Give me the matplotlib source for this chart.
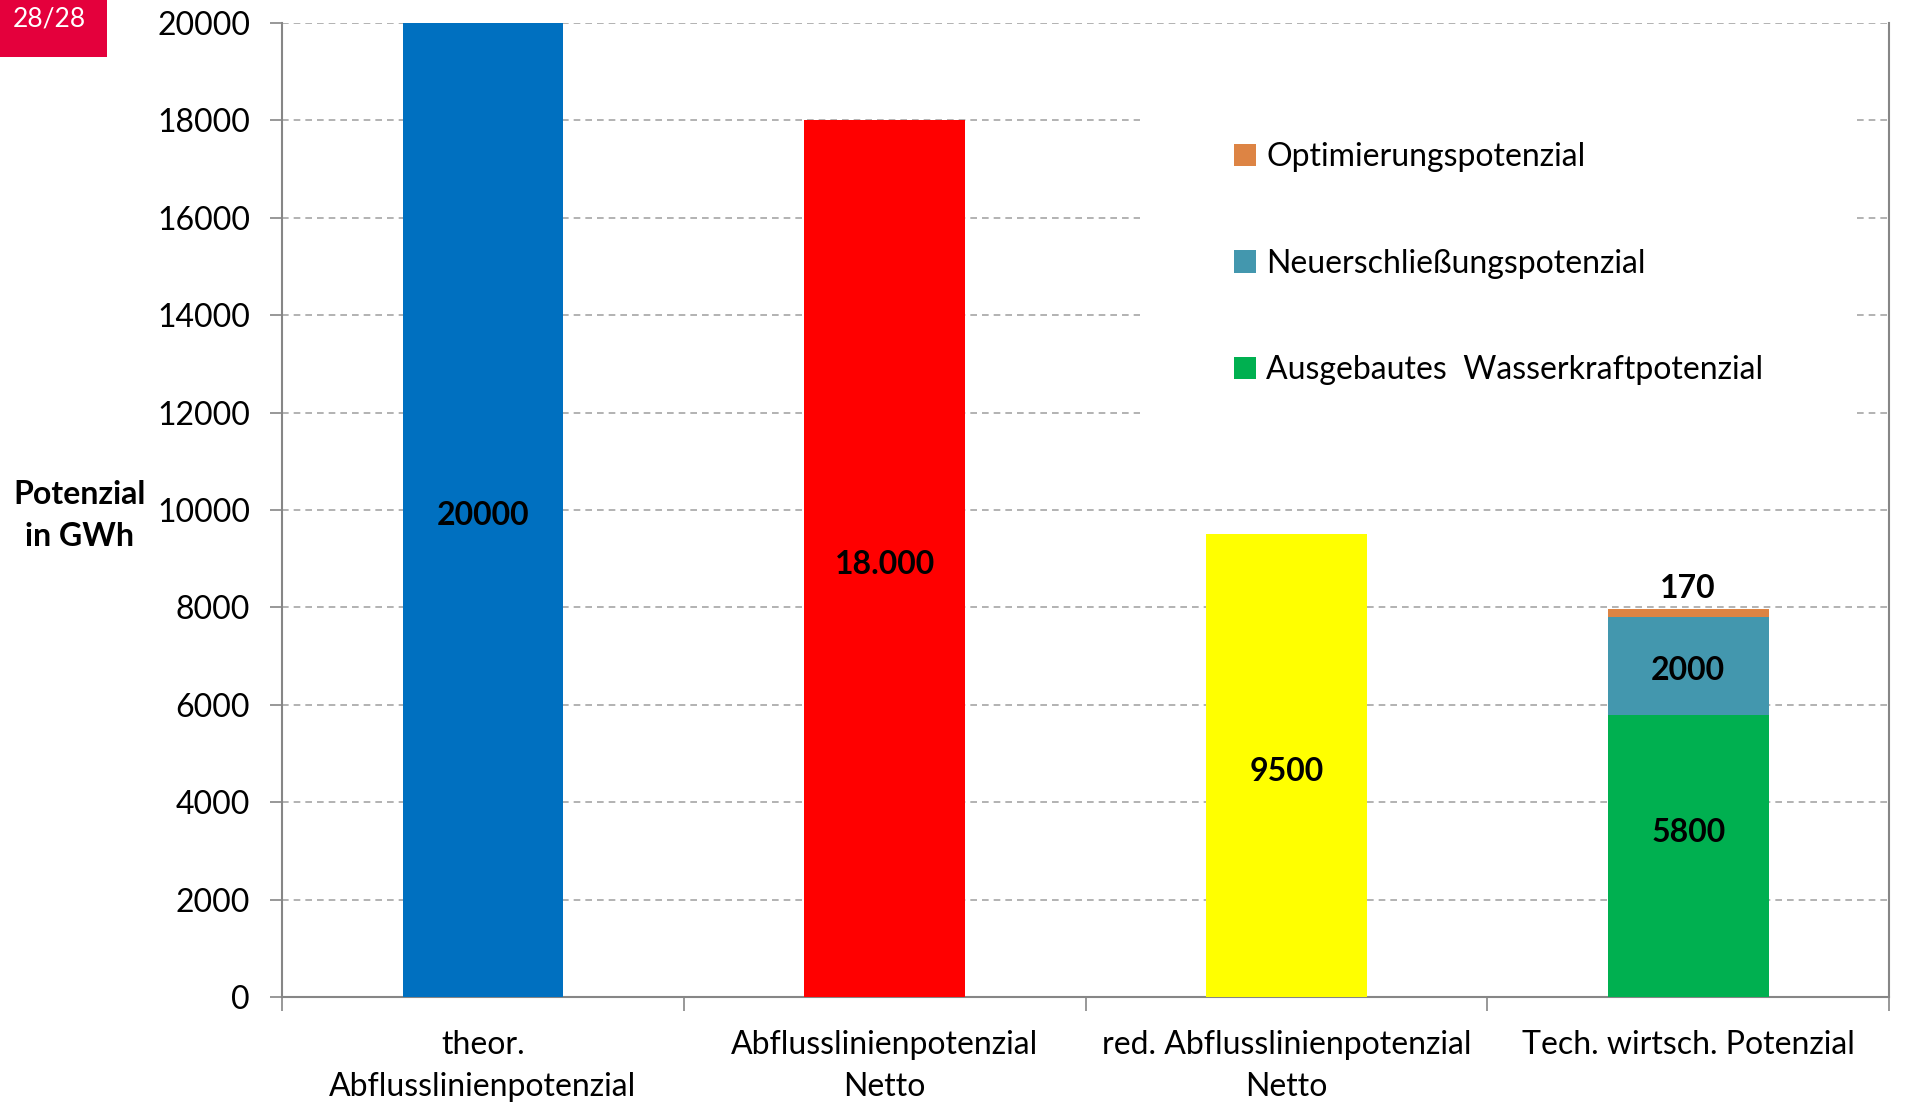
import matplotlib
matplotlib.use("Agg")
import matplotlib.pyplot as plt
from matplotlib.patches import Rectangle

plt.rcParams['font.family'] = ['Lato', 'DejaVu Sans']

categories = ["theor.\nAbflusslinienpotenzial", "Abflusslinienpotenzial\nNetto",
              "red. Abflusslinienpotenzial\nNetto", "Tech. wirtsch. Potenzial"]
single_values = [20000, 18000, 9500]
single_labels = ["20000", "18.000", "9500"]
single_colors = ["#0070C0", "#FF0000", "#FFFF00"]

stack_names = ["Ausgebautes  Wasserkraftpotenzial", "Neuerschließungspotenzial", "Optimierungspotenzial"]
stack_values = [5800, 2000, 170]
stack_colors = ["#00B050", "#4397AE", "#DD8444"]

yticks = list(range(0, 20001, 2000))

fig = plt.figure(figsize=(19.07, 11.19), dpi=100)
ax = fig.add_axes([0.1479, 0.109, 0.8427, 0.8704])

width = 0.4
fs = 23

# single-value bars
for i, (v, lab, c) in enumerate(zip(single_values, single_labels, single_colors)):
    ax.bar(i, v, width=width, color=c, zorder=3)
    ax.text(i, v / 2 - 120, lab, ha="center", va="center", fontsize=fs, fontweight="bold", zorder=4)

# stacked bar
x = len(single_values)
bottom = 0
handles = []
for v, name, c in zip(stack_values, stack_names, stack_colors):
    h = ax.bar(x, v, width=width, bottom=bottom, color=c, label=name, zorder=3)
    handles.append(h)
    bottom += v
ax.text(x, 3370, f"{stack_values[0]}", ha="center", va="center", fontsize=fs, fontweight="bold", zorder=4)
ax.text(x, stack_values[0] + stack_values[1] / 2 - 100, f"{stack_values[1]}", ha="center", va="center",
        fontsize=fs, fontweight="bold", zorder=4)
ax.text(x, bottom + 420, f"{stack_values[2]}", ha="center", va="center", fontsize=fs, fontweight="bold", zorder=4)

ax.set_xlim(-0.5, 3.5)
ax.set_ylim(0, 20000)
ax.set_yticks(yticks)
ax.set_yticklabels([str(t) for t in yticks], fontsize=fs)
ax.set_xticks(range(4))
ax.set_xticklabels(categories, fontsize=fs, linespacing=1.5)
ax.set_xticks([-0.5, 0.5, 1.5, 2.5, 3.5], minor=True)
ax.tick_params(axis="x", which="major", length=0, pad=24)
ax.tick_params(axis="x", which="minor", length=10, color="#868686", width=1.2, direction="out")
ax.tick_params(axis="y", length=9, color="#868686", width=1.2, pad=14)

ax.grid(axis="y", color="#A6A6A6", linestyle=(0, (4, 3)), linewidth=1.2, zorder=0)
ax.set_axisbelow(True)
for s in ["left", "bottom", "right"]:
    ax.spines[s].set_color("#868686")
    ax.spines[s].set_linewidth(1.5)
ax.spines["top"].set_visible(False)

# white area behind the legend
ax.add_patch(Rectangle((0.534, 0.574), 0.443, 0.35, transform=ax.transAxes,
                       facecolor="white", edgecolor="none", zorder=1))

leg = ax.legend(handles=handles[::-1], labels=stack_names[::-1], loc="upper left",
                bbox_to_anchor=(0.5845, 0.891), frameon=False, fontsize=fs,
                handlelength=0.7, handleheight=0.7, handletextpad=0.3, labelspacing=2.4,
                borderaxespad=0)

fig.text(0.0415, 0.5395, "Potenzial\nin GWh", ha="center", va="center", fontsize=fs,
         fontweight="bold", linespacing=1.55)

# page badge
fig.patches.append(Rectangle((0, 1 - 57 / 1119), 107 / 1907, 57 / 1119, transform=fig.transFigure,
                             facecolor="#E4003C", edgecolor="none"))
fig.text(49 / 1907, 1 - 19 / 1119, "28/28", ha="center", va="center", color="white", fontsize=19)

fig.savefig("out.png", dpi=100)
